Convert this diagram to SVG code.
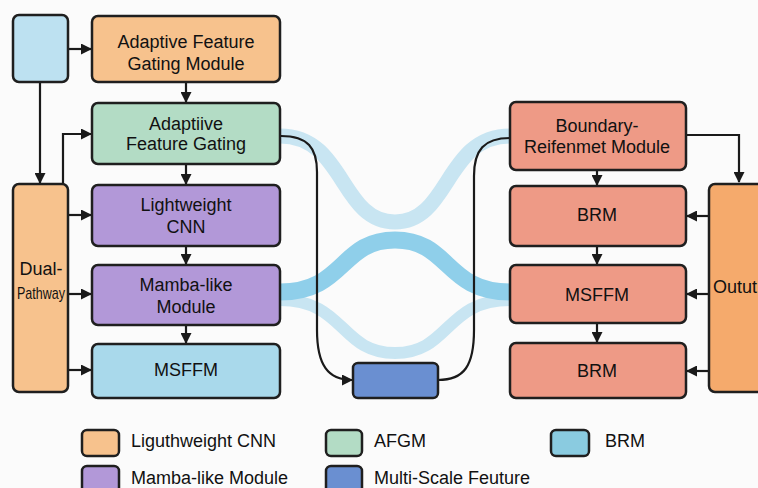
<svg xmlns="http://www.w3.org/2000/svg" width="758" height="488" viewBox="0 0 758 488">
<defs>
<marker id="arr" markerWidth="11" markerHeight="11" refX="10" refY="5.5" orient="auto" markerUnits="userSpaceOnUse">
<path d="M0,0 L11,5.5 L0,11 z" fill="#1a1a1a"/>
</marker>
<style>
.box{stroke:#1f1f1f;stroke-width:2.5}
.t{font-family:"Liberation Sans","Arial",sans-serif;font-size:18px;fill:#111;text-anchor:middle}
.lt{font-family:"Liberation Sans","Arial",sans-serif;font-size:18px;fill:#111}
.ln{fill:none;stroke:#1a1a1a;stroke-width:2.2}
.band{fill:none;stroke-linecap:butt}
</style>
</defs>
<rect width="758" height="488" fill="#fbfbfb"/>

<g id="bands">
<path class="band" d="M280 136 C345 136 340 222 395 222 C450 222 445 136 510 136" stroke="#c8e5f2" stroke-width="15"/>
<path class="band" d="M280 300 C345 300 340 353 395 353 C450 353 445 300 510 300" stroke="#c8e5f2" stroke-width="12"/>
<path class="band" d="M280 292 C345 292 340 240 395 240 C450 240 445 292 510 292" stroke="#8fcfea" stroke-width="17"/>
</g>

<g id="connectors">
<line class="ln" x1="68" y1="49" x2="91" y2="49" marker-end="url(#arr)"/>
<line class="ln" x1="40" y1="82" x2="40" y2="183" marker-end="url(#arr)"/>
<path class="ln" d="M63 184 L63 134 L91 134" marker-end="url(#arr)"/>
<line class="ln" x1="186" y1="82" x2="186" y2="102" marker-end="url(#arr)"/>
<line class="ln" x1="186" y1="164" x2="186" y2="184" marker-end="url(#arr)"/>
<line class="ln" x1="186" y1="246" x2="186" y2="264" marker-end="url(#arr)"/>
<line class="ln" x1="186" y1="325" x2="186" y2="343" marker-end="url(#arr)"/>
<line class="ln" x1="68" y1="215" x2="91" y2="215" marker-end="url(#arr)"/>
<line class="ln" x1="68" y1="294" x2="91" y2="294" marker-end="url(#arr)"/>
<line class="ln" x1="68" y1="370" x2="91" y2="370" marker-end="url(#arr)"/>
<path class="ln" d="M281 136 C308 136 317 148 317 172 L317 330 C317 365 328 380 352 380" marker-end="url(#arr)"/>
<path class="ln" d="M438 380 C464 380 474 366 474 330 L474 176 C474 150 484 138 510 138"/>
<path class="ln" d="M686 135 L739 135 L739 182" marker-end="url(#arr)"/>
<line class="ln" x1="597" y1="170" x2="597" y2="185" marker-end="url(#arr)"/>
<line class="ln" x1="597" y1="246" x2="597" y2="264" marker-end="url(#arr)"/>
<line class="ln" x1="597" y1="323" x2="597" y2="342" marker-end="url(#arr)"/>
<line class="ln" x1="709" y1="216" x2="687" y2="216" marker-end="url(#arr)"/>
<line class="ln" x1="709" y1="294" x2="687" y2="294" marker-end="url(#arr)"/>
<line class="ln" x1="709" y1="371" x2="687" y2="371" marker-end="url(#arr)"/>
</g>

<g id="input">
<rect class="box" x="13" y="15" width="55" height="67" rx="6" fill="#bde1f1"/>
</g>
<g id="afgm-top">
<rect class="box" x="92" y="16" width="188" height="66" rx="6" fill="#f7c28d"/>
<text class="t" x="186" y="48">Adaptive Feature</text>
<text class="t" x="186" y="70">Gating Module</text>
</g>
<g id="afg">
<rect class="box" x="92" y="103" width="188" height="61" rx="6" fill="#b3dcc5"/>
<text class="t" x="186" y="130">Adaptiive</text>
<text class="t" x="186" y="150">Feature Gating</text>
</g>
<g id="lcnn">
<rect class="box" x="92" y="185" width="188" height="61" rx="6" fill="#b298d8"/>
<text class="t" x="186" y="211">Lightweight</text>
<text class="t" x="186" y="233">CNN</text>
</g>
<g id="mamba">
<rect class="box" x="92" y="265" width="188" height="60" rx="6" fill="#b298d8"/>
<text class="t" x="186" y="291">Mamba-like</text>
<text class="t" x="186" y="313">Module</text>
</g>
<g id="msffm-left">
<rect class="box" x="92" y="344" width="188" height="54" rx="6" fill="#a9d9eb"/>
<text class="t" x="186" y="376">MSFFM</text>
</g>
<g id="dual">
<rect class="box" x="13" y="184" width="55" height="208" rx="6" fill="#f7c28d"/>
<text class="t" x="41" y="275">Dual-</text>
<text class="t" x="41" y="299" style="font-size:17px" textLength="48" lengthAdjust="spacingAndGlyphs">Pathway</text>
</g>
<g id="msf">
<rect class="box" x="353" y="363" width="85" height="35" rx="5" fill="#6a8fd1"/>
</g>
<g id="brm-module">
<rect class="box" x="510" y="102" width="176" height="68" rx="6" fill="#ee9a86"/>
<text class="t" x="597" y="132">Boundary-</text>
<text class="t" x="597" y="153">Reifenmet Module</text>
</g>
<g id="brm1">
<rect class="box" x="510" y="186" width="176" height="60" rx="6" fill="#ee9a86"/>
<text class="t" x="597" y="221">BRM</text>
</g>
<g id="msffm-right">
<rect class="box" x="510" y="265" width="176" height="58" rx="6" fill="#ee9a86"/>
<text class="t" x="597" y="301">MSFFM</text>
</g>
<g id="brm2">
<rect class="box" x="510" y="343" width="176" height="55" rx="6" fill="#ee9a86"/>
<text class="t" x="597" y="377">BRM</text>
</g>
<g id="output">
<rect class="box" x="709" y="184" width="70" height="208" rx="6" fill="#f5aa6c"/>
<text class="lt" x="713" y="293">Outut</text>
</g>

<g id="legend">
<rect class="box" x="82" y="430" width="37" height="26" rx="5" fill="#f7c28d"/>
<text class="lt" x="131" y="447">Liguthweight CNN</text>
<rect class="box" x="326" y="430" width="36" height="26" rx="5" fill="#b3dcc5"/>
<text class="lt" x="374" y="447">AFGM</text>
<rect class="box" x="551" y="430" width="38" height="26" rx="5" fill="#8acbe0"/>
<text class="lt" x="605" y="447">BRM</text>
<rect class="box" x="82" y="466" width="37" height="28" rx="5" fill="#b298d8"/>
<text class="lt" x="131" y="484">Mamba-like Module</text>
<rect class="box" x="326" y="466" width="36" height="28" rx="5" fill="#6a8fd1"/>
<text class="lt" x="374" y="484">Multi-Scale Feuture</text>
</g>
</svg>
